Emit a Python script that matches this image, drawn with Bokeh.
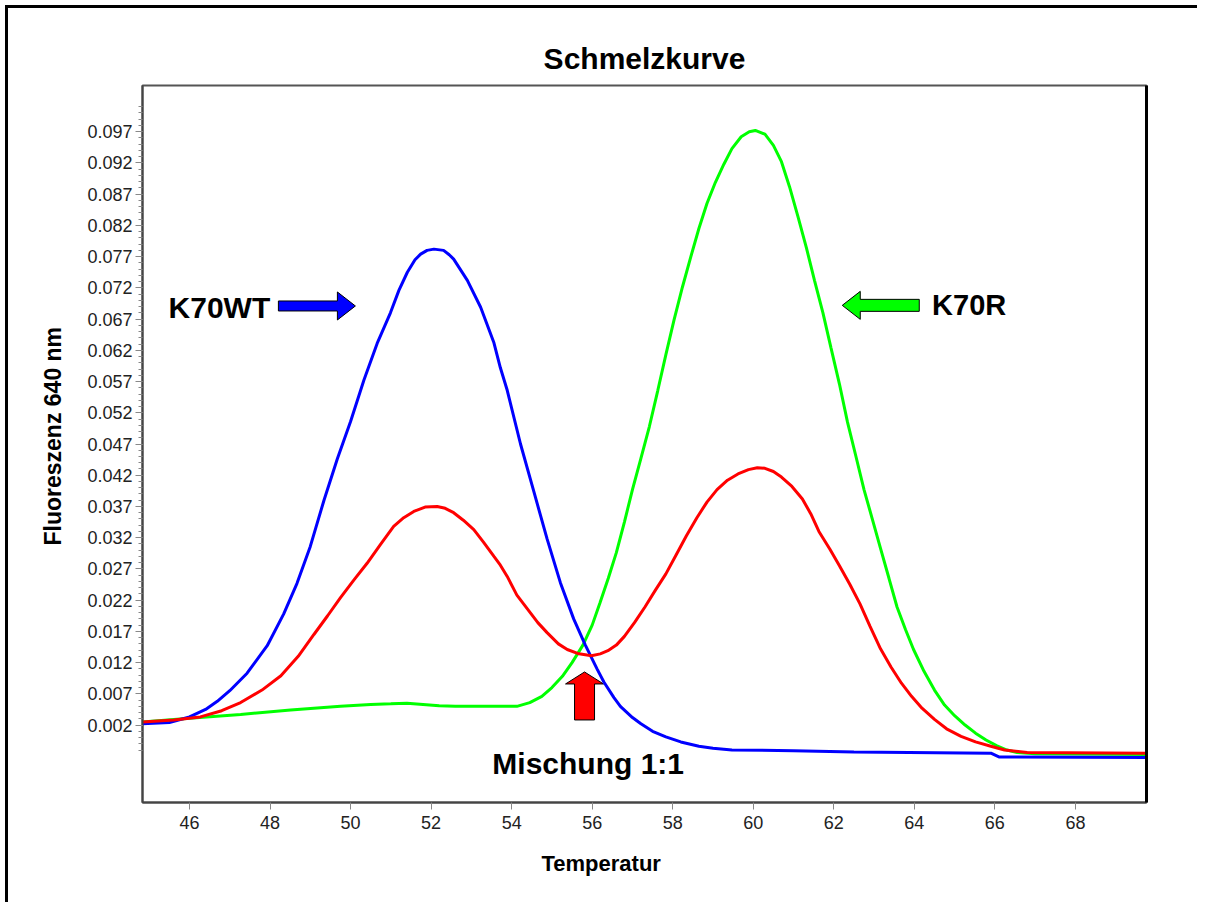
from bokeh.plotting import figure
from bokeh.models import (Range1d, FixedTicker, Label, LinearAxis, Title,
                          NumeralTickFormatter)
from bokeh.embed import file_html
from bokeh.resources import INLINE

# ---------------- data ----------------
title_text = "Schmelzkurve"
x_label = "Temperatur"
y_label = "Fluoreszenz 640 nm"

x_ticks = [46, 48, 50, 52, 54, 56, 58, 60, 62, 64, 66, 68]
y_ticks = [0.002, 0.007, 0.012, 0.017, 0.022, 0.027, 0.032, 0.037, 0.042, 0.047,
           0.052, 0.057, 0.062, 0.067, 0.072, 0.077, 0.082, 0.087, 0.092, 0.097]

# K70WT (blue)
t_wt = [44.83, 45.5, 46.0, 46.4, 46.69, 47.0, 47.43, 47.93, 48.34, 48.67, 49.0, 49.34,
        49.67, 50.0, 50.33, 50.66, 50.99, 51.2, 51.41, 51.6, 51.74, 51.9, 52.07, 52.31,
        52.45, 52.56, 52.9, 53.23, 53.56, 53.72, 53.89, 54.22, 54.55, 54.88, 55.21,
        55.54, 55.83, 56.12, 56.29, 56.54, 56.7, 57.0, 57.21, 57.5, 57.83, 58.2, 58.65,
        59.0, 59.47, 61.0, 62.5, 65.9, 66.1, 69.77]
f_wt = [0.0022, 0.0024, 0.0033, 0.0045, 0.0058, 0.0075, 0.0103, 0.0147, 0.0198, 0.0247,
        0.0306, 0.0380, 0.0446, 0.0506, 0.0572, 0.0631, 0.0680, 0.0716, 0.0745, 0.0765,
        0.0774, 0.0780, 0.0782, 0.0780, 0.0773, 0.0766, 0.0732, 0.0689, 0.0632, 0.0592,
        0.0556, 0.0470, 0.0394, 0.0318, 0.0248, 0.0190, 0.0148, 0.0110, 0.0089, 0.0064,
        0.0050, 0.0032, 0.0022, 0.0010, 0.0001, -0.0007, -0.0014, -0.0017, -0.0020,
        -0.0021, -0.0023, -0.0025, -0.0031, -0.0032]

# K70R (green)
t_r = [44.83, 46.0, 47.27, 48.51, 49.75, 50.5, 51.0, 51.4, 51.8, 52.2, 52.6, 53.5, 54.13,
       54.45, 54.75, 55.0, 55.26, 55.5, 55.77, 56.0, 56.19, 56.4, 56.6, 56.8, 57.0, 57.21,
       57.42, 57.63, 57.83, 58.03, 58.24, 58.45, 58.65, 58.85, 59.06, 59.27, 59.47, 59.7,
       59.9, 60.05, 60.29, 60.5, 60.7, 60.9, 61.11, 61.32, 61.52, 61.73, 61.93, 62.14,
       62.34, 62.55, 62.75, 62.96, 63.16, 63.37, 63.57, 63.78, 63.98, 64.24, 64.5, 64.75,
       65.0, 65.26, 65.52, 65.78, 66.04, 66.3, 66.55, 67.0, 69.77]
f_r = [0.0025, 0.0031, 0.0037, 0.0044, 0.0050, 0.0053, 0.0054, 0.0055, 0.0053, 0.0051,
       0.0050, 0.0050, 0.0050, 0.0056, 0.0066, 0.0080, 0.0098, 0.0120, 0.0148, 0.0180,
       0.0215, 0.0255, 0.0296, 0.0345, 0.0397, 0.0447, 0.0498, 0.0556, 0.0613, 0.0668,
       0.0721, 0.0770, 0.0815, 0.0855, 0.0889, 0.0918, 0.0943, 0.0962, 0.0970, 0.0972,
       0.0966, 0.0948, 0.0922, 0.0882, 0.0834, 0.0784, 0.0732, 0.0680, 0.0624, 0.0566,
       0.0505, 0.0450, 0.0397, 0.0349, 0.0303, 0.0255, 0.0209, 0.0173, 0.0141, 0.0106,
       0.0076, 0.0052, 0.0035, 0.0020, 0.0007, -0.0004, -0.0013, -0.0020, -0.0024,
       -0.0026, -0.0027]

# Mischung 1:1 (red)
t_mix = [44.83, 45.61, 46.27, 46.8, 47.27, 47.8, 48.27, 48.7, 49.09, 49.43, 49.75, 50.08,
         50.41, 50.74, 51.07, 51.32, 51.57, 51.85, 52.15, 52.35, 52.56, 52.8, 53.06, 53.3,
         53.56, 53.72, 53.89, 54.13, 54.39, 54.65, 54.88, 55.16, 55.38, 55.67, 55.87,
         55.98, 56.2, 56.39, 56.6, 56.8, 57.05, 57.31, 57.57, 57.83, 58.08, 58.34, 58.6,
         58.85, 59.1, 59.36, 59.62, 59.88, 60.1, 60.29, 60.5, 60.7, 60.96, 61.22, 61.43,
         61.63, 61.9, 62.14, 62.4, 62.65, 62.9, 63.16, 63.42, 63.68, 63.93, 64.19, 64.5,
         64.8, 65.16, 65.52, 65.9, 66.24, 66.8, 69.77]
f_mix = [0.0025, 0.0028, 0.0033, 0.0043, 0.0056, 0.0076, 0.0099, 0.0130, 0.0165, 0.0195,
         0.0224, 0.0252, 0.0279, 0.0309, 0.0338, 0.0352, 0.0362, 0.0369, 0.0370, 0.0367,
         0.0360, 0.0348, 0.0333, 0.0313, 0.0290, 0.0276, 0.0258, 0.0228, 0.0206, 0.0184,
         0.0168, 0.0150, 0.0141, 0.0134, 0.0132, 0.0131, 0.0134, 0.0139, 0.0148, 0.0162,
         0.0184, 0.0209, 0.0236, 0.0262, 0.0292, 0.0323, 0.0352, 0.0377, 0.0397, 0.0412,
         0.0422, 0.0429, 0.0432, 0.0431, 0.0426, 0.0417, 0.0402, 0.0382, 0.0358, 0.0330,
         0.0302, 0.0275, 0.0245, 0.0214, 0.0178, 0.0142, 0.0113, 0.0087, 0.0066, 0.0047,
         0.0029, 0.0014, 0.0002, -0.0007, -0.0014, -0.0020, -0.0024, -0.0025]

# annotations: (text, x, y) in data units; arrow tips in data units
label_wt = ("K70WT", 45.48, 0.0689, "30px")
label_r = ("K70R", 64.44, 0.0692, "29px")
label_mix = ("Mischung 1:1", 53.52, -0.0041, "30px")
arrow_wt_tip = (50.12, 0.0691)
arrow_r_tip = (62.21, 0.0692)
arrow_mix_tip = (55.81, 0.0105)

# ---------------- layout ----------------
PAD = 8            # outer border (5px gap + 3px line) drawn by CSS
W, H = 1200 - PAD, 905 - PAD
FL, FT, FR, FB = 142 - PAD, 85 - PAD, 1146 - PAD, 802 - PAD
FW, FH = FR - FL, FB - FT
XR = (44.833, 69.765)
YR = (-0.0104, 0.1044)
PX = (XR[1] - XR[0]) / FW   # data per pixel, x
PY = (YR[1] - YR[0]) / FH   # data per pixel, y

p = figure(width=W, height=H, x_range=Range1d(*XR), y_range=Range1d(*YR),
           output_backend="svg", toolbar_location=None,
           min_border_left=FL, min_border_top=FT,
           min_border_right=W - FR, min_border_bottom=H - FB)
p.margin = (5, 0, 0, 5)
p.styles = {"border-top": "3px solid black", "border-left": "3px solid black",
            "border-right": "0px none", "border-bottom": "0px none",
            "outline": "none", "box-shadow": "none"}
p.background_fill_color = "white"
p.border_fill_color = "white"
p.xgrid.visible = False
p.ygrid.visible = False
p.outline_line_color = "#555555"
p.outline_line_width = 2

p.title.text = title_text
p.title.align = "center"
p.title.text_font = "Liberation Sans"
p.title.text_font_size = "30px"
p.title.text_font_style = "bold"
p.title.text_color = "black"
p.title.standoff = 21

TICK_FONT = "Liberation Sans"
for ax in (p.xaxis[0], p.yaxis[0]):
    ax.axis_line_color = "#444444"
    ax.axis_line_width = 2
    ax.major_tick_line_color = "#888888"
    ax.minor_tick_line_color = "#888888"
    ax.major_tick_in = 0
    ax.minor_tick_in = 0
    ax.major_label_text_font = TICK_FONT
    ax.major_label_text_font_size = "18px"
    ax.major_label_text_color = "#222222"

p.xaxis.ticker = FixedTicker(ticks=x_ticks, minor_ticks=[])
p.xaxis.major_tick_out = 7
p.xaxis.major_label_standoff = 6

y_minor = [round(-0.002 + 0.001 * k, 3) for k in range(104)]
p.yaxis.ticker = FixedTicker(ticks=y_ticks, minor_ticks=y_minor)
p.yaxis.formatter = NumeralTickFormatter(format="0.000")
p.yaxis.major_tick_out = 7
p.yaxis.minor_tick_out = 4
p.yaxis.major_label_standoff = 3

right = LinearAxis(ticker=FixedTicker(ticks=[], minor_ticks=[]),
                   axis_line_color="black", axis_line_width=3,
                   major_tick_line_color=None, minor_tick_line_color=None,
                   major_label_text_color=None)
p.add_layout(right, "right")

# axis titles as side titles (allow offset from the frame edge)
p.add_layout(Title(text=x_label, align="left", offset=399, text_font="Liberation Sans",
                   text_font_size="22px", text_font_style="bold", text_color="black",
                   standoff=35), "below")
p.add_layout(Title(text=y_label, align="left", offset=257, text_font="Liberation Sans",
                   text_font_size="23px", text_font_style="bold", text_color="black",
                   standoff=37), "left")


def arrow(tip, direction, shaft_len, shaft_half, head_len, head_half):
    """block arrow polygon; offsets in pixels converted to data units"""
    tx, ty = tip
    if direction in ("right", "left"):
        s = -1 if direction == "right" else 1
        pts = [(0, 0), (s * head_len, head_half), (s * head_len, shaft_half),
               (s * shaft_len, shaft_half), (s * shaft_len, -shaft_half),
               (s * head_len, -shaft_half), (s * head_len, -head_half)]
        return ([tx + a * PX for a, b in pts], [ty + b * PY for a, b in pts])
    pts = [(0, 0), (head_half, -head_len), (shaft_half, -head_len),
           (shaft_half, -shaft_len), (-shaft_half, -shaft_len),
           (-shaft_half, -head_len), (-head_half, -head_len)]
    return ([tx + a * PX for a, b in pts], [ty + b * PY for a, b in pts])


ax_, ay_ = arrow(arrow_mix_tip, "up", 48, 10, 12, 19)
p.patch(ax_, ay_, fill_color="#ff0000", line_color="black", line_width=1)

p.line(t_r, f_r, line_color="#00ff00", line_width=3)
p.line(t_wt, f_wt, line_color="#0000ff", line_width=3)
p.line(t_mix, f_mix, line_color="#ff0000", line_width=3)

bx, by = arrow(arrow_wt_tip, "right", 77, 5, 18, 14)
p.patch(bx, by, fill_color="#0000ff", line_color="black", line_width=1)
gx, gy = arrow(arrow_r_tip, "left", 77, 6, 18, 14)
p.patch(gx, gy, fill_color="#00ff00", line_color="black", line_width=1)

for txt, x, y, fs in (label_wt, label_r, label_mix):
    p.add_layout(Label(x=x, y=y, text=txt, text_font="Liberation Sans",
                       text_font_size=fs, text_font_style="bold",
                       text_color="black", text_baseline="alphabetic", text_align="left"))

open("out.html", "w").write(file_html(p, INLINE))
